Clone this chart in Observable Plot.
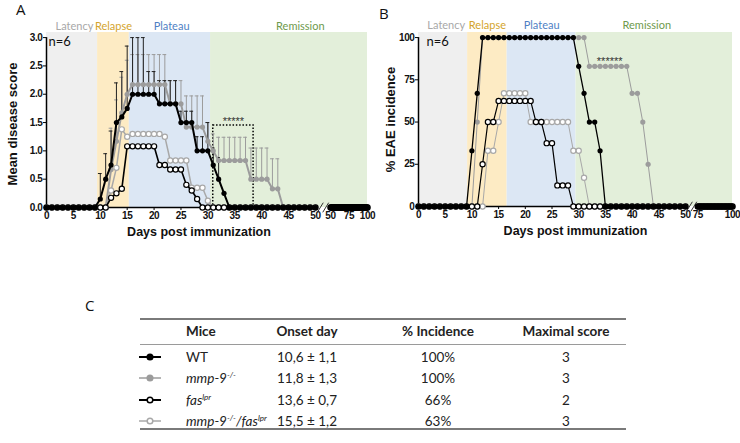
<!DOCTYPE html>
<html>
<head>
<meta charset="utf-8">
<script src="https://cdn.jsdelivr.net/npm/d3@7"></script>
<script src="https://cdn.jsdelivr.net/npm/@observablehq/plot@0.6"></script>
<style>
  html,body{margin:0;padding:0;background:#fff;}
  #root{position:relative;width:740px;height:443px;overflow:hidden;font-family:Lato,"Liberation Sans",Arial,sans-serif;color:#222;}
  .abs{position:absolute;}
  .letter{font-family:"Open Sans",Lato,sans-serif;font-size:15px;line-height:18px;color:#111;}
  .cell{position:absolute;font-size:13.5px;line-height:16px;white-space:nowrap;}
  .ctr{transform:translateX(-50%);}
  .hd{font-weight:bold;}
  sup{font-size:8px;vertical-align:5px;line-height:0;}
  .rule{position:absolute;background:#7a7a7a;}
  #A svg [aria-label*="axis"] text, #B svg [aria-label*="axis"] text{font-family:"Liberation Sans",Arial,sans-serif;font-weight:bold;font-size:10px;letter-spacing:-0.4px;fill:#111;}
</style>
</head>
<body>
<div id="root">
  <div id="A" class="abs" style="left:0;top:0"></div>
  <div id="B" class="abs" style="left:370px;top:0"></div>
</div>
<script>
// ---------------- DATA ----------------
const days = d3.range(0, 51);            // daily points, day 0..50
const tailDaysA = d3.range(50, 101);     // after axis break (panel A)
const tailDaysB = d3.range(75, 101);     // after axis break (panel B)

// Panel A: mean disease score
const A_WT   = [0,0,0,0,0,0,0,0,0,0, 0.15,0.5,0.75,1.5,1.6,1.75,2,2,2,2,2, 1.83,1.83,1.83,1.83,1.5,1.5,1.5,1,1,1, 0.75,0.5,0.25,0,0,0,0,0,0,0, 0,0,0,0,0,0,0,0,0,0];
const A_WT_up = [null,null,null,null,null,null,null,null,null,null, 0.6,0.95,1.35,2.2,2.4,2.85,3,3,3,2.4,2.4, 2.24,2.24,2.24,2.24,1.7,1.7,1.7,1.25,1.25,1.5, 1.05,0.88,null,null,null,null,null,null,null,null, null,null,null,null,null,null,null,null,null,null];
const A_MMP9 = [0,0,0,0,0,0,0,0,0,0, 0,0,0.67,1.17,1.67,2,2.17,2.17,2.17,2.17,2.17, 2.17,2.17,1.83,1.83,1.83,1.42,1.42,1.42,1.42,1.17, 1,0.83,0.83,0.83,0.83,0.83,0.83,0.5,0.5,0.5, 0.5,0.33,0.33,0,0,0,0,0,0,0];
const A_MMP9_up = [null,null,null,null,null,null,null,null,null,null, null,null,1.4,1.9,2.3,2.6,2.7,2.7,2.7,2.7,2.7, 2.7,2.7,2.24,2.24,2.24,1.97,1.97,1.97,1.97,1.5, 1.3,1.24,1.24,1.24,1.24,1.24,1.24,1.05,1.05,1.05, 1.05,0.86,0.86,null,null,null,null,null,null,null];
const A_FAS  = [0,0,0,0,0,0,0,0,0,0, 0,0,0.17,0.25,0.33,1.08,1.08,1.08,1.08,1.08,1.08, 0.75,0.75,0.67,0.67,0.67,0.4,0.3,0.15,0,0, 0,0,0,0,0,0,0,0,0,0, 0,0,0,0,0,0,0,0,0,0];
const A_DKO  = [0,0,0,0,0,0,0,0,0,0, 0,0,0.3,0.7,1.38,1.25,1.3,1.3,1.3,1.3,1.3, 1.3,1.25,0.83,0.83,0.83,0.83,0.35,0.35,0.35,0.12, 0,0,0,0,0,0,0,0,0,0, 0,0,0,0,0,0,0,0,0,0];
const A_tail = [0,0,0,0,0,0,0,0,0,0, 0,0,0,0,0,0,0,0,0,0, 0,0,0,0,0,0,0,0,0,0, 0,0,0,0,0,0,0,0,0,0, 0,0,0,0,0,0,0,0,0,0, 0];

// Panel B: % EAE incidence
const B_WT   = [0,0,0,0,0,0,0,0,0,0, 33,67,100,100,100,100,100,100,100,100,100, 100,100,100,100,100,100,100,100,100,83, 67,50,50,33,0,0,0,0,0,0, 0,0,0,0,0,0,0,0,0,0];
const B_MMP9 = [0,0,0,0,0,0,0,0,0,0, 0,50,100,100,100,100,100,100,100,100,100, 100,100,100,100,100,100,100,100,100,100, 100,83,83,83,83,83,83,83,83,67, 67,50,25,0,0,0,0,0,0,0];
const B_FAS  = [0,0,0,0,0,0,0,0,0,0, 0,0,25,50,50,62.5,62.5,62.5,62.5,62.5,62.5, 62.5,50,50,37.5,37.5,12.5,12.5,12.5,0,0, 0,0,0,0,0,0,0,0,0,0, 0,0,0,0,0,0,0,0,0,0];
const B_DKO  = [0,0,0,0,0,0,0,0,0,0, 0,0,0,33,33,50,67,67,67,67,67, 50,50,50,50,50,50,50,50,33,33, 17,0,0,0,0,0,0,0,0,0, 0,0,0,0,0,0,0,0,0,0];
const B_tail = [0,0,0,0,0,0,0,0,0,0, 0,0,0,0,0,0,0,0,0,0, 0,0,0,0,0,0];

// Disease phases
const bandNames  = ["Latency", "Relapse", "Plateau", "Remission"];
const bandStartA = [0, 9.5, 15.4, 30.5];
const bandEndA   = [9.5, 15.4, 30.5, 100];
const bandStartB = [0, 9.2, 16.6, 29.5];
const bandEndB   = [9.2, 16.6, 29.5, 100];

// Ticks
const yTicksA = [0, 0.5, 1, 1.5, 2, 2.5, 3];
const yTicksB = [0, 25, 50, 75, 100];
const xTicks1 = [0, 5, 10, 15, 20, 25, 30, 35, 40, 45, 50];
const xTicks2A = [50, 75, 100];
const xTicks2B = [75, 100];

// Significance boxes / stars
const sigA = {from: 31, to: 38.5, top: 1.45, stars: "*****"};
const sigB = {from: 33, to: 38, level: 83, stars: "******"};

// Table (panel C)
const tableHeader = ["Mice", "Onset day", "% Incidence", "Maximal score"];
const miceHTML = ["WT", "<i>mmp-9<sup>-/-</sup></i>", "<i>fas<sup>lpr</sup></i>", "<i>mmp-9<sup>-/-</sup>/fas<sup>lpr</sup></i>"];
const onsetMean = ["10,6", "11,8", "13,6", "15,5"];
const onsetSd = ["1,1", "1,3", "0,7", "1,2"];
const incidence = ["100%", "100%", "66%", "63%"];
const maxScore = ["3", "3", "2", "3"];

// ---------------- STYLE ----------------
const bandFill = ["#efefef", "#fdebc4", "#dce7f4", "#e3efda"];
const bandText = ["#a8a8a8", "#d4a42c", "#4f7fc4", "#6e9a4c"];
const series = [
  {name: "mmp9", color: "#9c9c9c", open: false, lwA: 2,   lwB: 1},
  {name: "dko",  color: "#a8a8a8", open: true,  lwA: 1.5, lwB: 1},
  {name: "fas",  color: "#000",    open: true,  lwA: 1.6, lwB: 1.2},
  {name: "wt",   color: "#000",    open: false, lwA: 2,   lwB: 1.3}
];

// broken axis: second segment compressed
const posA2 = d => 52.8 + (d - 50) * 0.1375;
const posB2 = d => 52.3 + (d - 75) * 0.26;
const tA = d => d <= 50 ? d : posA2(d);
const tB = d => d <= 50 ? d : posB2(d);

// the two "//" strokes of each axis break, centred in the gap
function breakSlashes(gapFrom, gapTo, halfW, halfH) {
  const c = (gapFrom + gapTo) / 2, s = (gapTo - gapFrom) * 0.18;
  return [c - s, c + s].map(m => ({x1: m - halfW, x2: m + halfW, y1: -halfH, y2: halfH}));
}

function buildRows(vals, ups, tailVals, pos2, tailDays) {
  const r = days.map((d, i) => ({x: d, v: vals[i], up: ups ? ups[i] : null, seg: 1}));
  const t = tailDays.map((d, i) => ({x: pos2(d), v: tailVals[i], up: null, seg: 2}));
  return r.concat(t);
}

const rowsA = {
  mmp9: buildRows(A_MMP9, A_MMP9_up, A_tail, posA2, tailDaysA),
  dko: buildRows(A_DKO, null, A_tail, posA2, tailDaysA),
  fas: buildRows(A_FAS, null, A_tail, posA2, tailDaysA),
  wt: buildRows(A_WT, A_WT_up, A_tail, posA2, tailDaysA)
};
const rowsB = {
  mmp9: buildRows(B_MMP9, null, B_tail, posB2, tailDaysB),
  dko: buildRows(B_DKO, null, B_tail, posB2, tailDaysB),
  fas: buildRows(B_FAS, null, B_tail, posB2, tailDaysB),
  wt: buildRows(B_WT, null, B_tail, posB2, tailDaysB)
};

function seriesMarks(rows, s, lw) {
  return [
    Plot.line(rows, {x: "x", y: "v", z: "seg", stroke: s.color, strokeWidth: lw}),
    Plot.dot(rows, {x: "x", y: "v", r: 2.6, fill: s.open ? "white" : s.color, stroke: s.color, strokeWidth: s.open ? 1.2 : 0})
  ];
}
function errMarks(rows, color) {
  const e = rows.filter(d => d.up != null);
  return [
    Plot.ruleX(e, {x: "x", y1: "v", y2: "up", stroke: color, strokeWidth: 1}),
    Plot.ruleY(e, {y: "up", x1: d => d.x - 0.35, x2: d => d.x + 0.35, stroke: color, strokeWidth: 1})
  ];
}

const baseStyle = {background: "transparent", overflow: "visible", fontFamily: "'Liberation Sans', Arial, sans-serif", fontSize: "10px", color: "black"};
const lblFont = {fontFamily: "Lato, 'Open Sans', sans-serif", fontWeight: "normal"};
const bandIdx = [0, 1, 2, 3];

// ---------------- PANEL A ----------------
const ymaxA = 3.09;
const xPosA = xTicks1.concat(xTicks2A.map(posA2));
const xLabA = new Map(xPosA.map((p, i) => [p, String(i < xTicks1.length ? xTicks1[i] : xTicks2A[i - xTicks1.length])]));
const shiftA = [0.45, 0, 0.3, 2.1];

const plotA = Plot.plot({
  width: 370, height: 240,
  marginLeft: 46, marginRight: 3, marginTop: 32, marginBottom: 33,
  style: baseStyle,
  color: {type: "identity"},
  x: {domain: [0, tA(100)], ticks: xPosA, tickFormat: p => xLabA.get(p), tickSize: 3, tickPadding: 1, label: null},
  y: {domain: [0, ymaxA], ticks: yTicksA, tickFormat: d => d.toFixed(1), tickSize: 3, tickPadding: 1, label: null},
  marks: [
    Plot.rect(bandIdx, {x1: i => tA(bandStartA[i]), x2: i => tA(bandEndA[i]), y1: 0, y2: ymaxA, fill: i => bandFill[i]}),
    Plot.text(bandIdx, {x: i => (tA(bandStartA[i]) + tA(bandEndA[i])) / 2 + shiftA[i], y: ymaxA, text: i => bandNames[i], fill: i => bandText[i], lineAnchor: "bottom", dy: -3, fontSize: 11, ...lblFont}),
    Plot.ruleX([0], {y1: 0, y2: 3, stroke: "black", strokeWidth: 1.5}),
    Plot.ruleY([0], {x1: 0, x2: 50, stroke: "black", strokeWidth: 1.5}),
    Plot.ruleY([0], {x1: posA2(50), x2: posA2(100), stroke: "black", strokeWidth: 1.5}),
    Plot.link(breakSlashes(50, posA2(50), 0.55, 0.085), {x1: "x1", x2: "x2", y1: "y1", y2: "y2", stroke: "#333", strokeWidth: 1}),
    Plot.rect([sigA], {x1: d => d.from, x2: d => d.to, y1: 0, y2: d => d.top, fill: "none", stroke: "black", strokeWidth: 1.5, strokeDasharray: "1.5 1.8"}),
    Plot.text([sigA], {x: d => (d.from + d.to) / 2, y: d => d.top, text: d => d.stars, lineAnchor: "bottom", dy: 0, fontSize: 11, fill: "#333"}),
    ...errMarks(rowsA.mmp9, "#9c9c9c"),
    ...errMarks(rowsA.wt, "#222"),
    ...series.flatMap(s => seriesMarks(rowsA[s.name], s, s.lwA)),
    Plot.text(["n=6"], {frameAnchor: "top-left", text: d => d, dx: 2, dy: 4, lineAnchor: "top", textAnchor: "start", fontSize: 13, fill: "#111", ...lblFont}),
    Plot.text(["Days post immunization"], {frameAnchor: "bottom", text: d => d, dx: -8, dy: 24, lineAnchor: "middle", textAnchor: "middle", fontSize: 12.5, fontWeight: "bold", fill: "#111"}),
    Plot.text(["Mean disease score"], {frameAnchor: "left", text: d => d, rotate: -90, dx: -34, dy: 4, textAnchor: "middle", lineAnchor: "middle", fontSize: 13, fontWeight: "bold", fill: "#111"})
  ]
});
document.getElementById("A").appendChild(plotA);

// ---------------- PANEL B ----------------
const ymaxB = 103;
const xPosB = xTicks1.concat(xTicks2B.map(posB2));
const xLabB = new Map(xPosB.map((p, i) => [p, String(i < xTicks1.length ? xTicks1[i] : xTicks2B[i - xTicks1.length])]));
const shiftB = [0.6, 0, 0, -1.4];

const plotB = Plot.plot({
  width: 370, height: 240,
  marginLeft: 48, marginRight: 8, marginTop: 32, marginBottom: 34,
  style: baseStyle,
  color: {type: "identity"},
  x: {domain: [0, tB(100)], ticks: xPosB, tickFormat: p => xLabB.get(p), tickSize: 3, tickPadding: 1, label: null},
  y: {domain: [0, ymaxB], ticks: yTicksB, tickFormat: d => String(d), tickSize: 3, tickPadding: 1, label: null},
  marks: [
    Plot.rect(bandIdx, {x1: i => tB(bandStartB[i]), x2: i => tB(bandEndB[i]), y1: 0, y2: ymaxB, fill: i => bandFill[i]}),
    Plot.text(bandIdx, {x: i => (tB(bandStartB[i]) + tB(bandEndB[i])) / 2 + shiftB[i], y: ymaxB, text: i => bandNames[i], fill: i => bandText[i], lineAnchor: "bottom", dy: -4, fontSize: 11, ...lblFont}),
    Plot.ruleX([0], {y1: 0, y2: 100, stroke: "black", strokeWidth: 1.5}),
    Plot.ruleY([0], {x1: 0, x2: 50, stroke: "black", strokeWidth: 1.5}),
    Plot.ruleY([0], {x1: posB2(75), x2: posB2(100), stroke: "black", strokeWidth: 1.5}),
    Plot.link(breakSlashes(50, posB2(75), 0.55, 2.8), {x1: "x1", x2: "x2", y1: "y1", y2: "y2", stroke: "#333", strokeWidth: 1}),
    Plot.text([sigB], {x: d => (d.from + d.to) / 2 + 0.3, y: d => d.level, text: d => d.stars, lineAnchor: "bottom", dy: -1, fontSize: 11, fill: "#333"}),
    ...series.flatMap(s => seriesMarks(rowsB[s.name], s, s.lwB)),
    Plot.text(["n=6"], {frameAnchor: "top-left", text: d => d, dx: 8, dy: 4, lineAnchor: "top", textAnchor: "start", fontSize: 13, fill: "#111", ...lblFont}),
    Plot.text(["Days post immunization"], {frameAnchor: "bottom", text: d => d, dx: 0, dy: 24, lineAnchor: "middle", textAnchor: "middle", fontSize: 12.5, fontWeight: "bold", fill: "#111"}),
    Plot.text(["% EAE incidence"], {frameAnchor: "left", text: d => d, rotate: -90, dx: -28, dy: 0, textAnchor: "middle", lineAnchor: "middle", fontSize: 13, fontWeight: "bold", fill: "#111"})
  ]
});
document.getElementById("B").appendChild(plotB);

// ---------------- PANEL LETTERS + TABLE ----------------
const root = document.getElementById("root");
function add(html, cls, left, top, extra) {
  const el = document.createElement("div");
  el.className = cls;
  el.style.left = left + "px";
  el.style.top = top + "px";
  if (extra) Object.assign(el.style, extra);
  el.innerHTML = html;
  root.appendChild(el);
  return el;
}
add("A", "abs letter", 16, 0);
add("B", "abs letter", 379, 4);
add("C", "abs letter", 85, 296);

const tbl = {left: 140, right: 626, top: 318, mid: 344, bottom: 428};
const colSym = 138, colMice = 186, colOnset = 307, colInc = 438, colMax = 566;
const headerY = 331, rowY = [357, 378, 400, 421];

add("", "rule", tbl.left, tbl.top, {width: (tbl.right - tbl.left) + "px", height: "2px"});
add("", "rule", tbl.left, tbl.mid, {width: (tbl.right - tbl.left) + "px", height: "1px", background: "#9a9a9a"});
add("", "rule", tbl.left, tbl.bottom, {width: (tbl.right - tbl.left) + "px", height: "2px"});

add(tableHeader[0], "cell hd", colMice, headerY - 8);
add(tableHeader[1], "cell hd ctr", colOnset, headerY - 8);
add(tableHeader[2], "cell hd ctr", colInc, headerY - 8);
add(tableHeader[3], "cell hd ctr", colMax, headerY - 8);

const legendGlyph = [
  {c: "#000", open: false, lw: 2},
  {c: "#9c9c9c", open: false, lw: 1.5},
  {c: "#000", open: true, lw: 2},
  {c: "#a8a8a8", open: true, lw: 1.5}
];
rowY.forEach((y, i) => {
  const g = legendGlyph[i];
  add(`<svg width="24" height="10" style="display:block"><line x1="1" x2="23" y1="5" y2="5" stroke="${g.c}" stroke-width="${g.lw}"/><circle cx="12" cy="5" r="2.8" fill="${g.open ? "#fff" : g.c}" stroke="${g.c}" stroke-width="1.5"/></svg>`, "abs", colSym, y - 5);
  add(miceHTML[i], "cell", colMice, y - 8);
  add(onsetMean[i] + " &plusmn; " + onsetSd[i], "cell ctr", colOnset, y - 8);
  add(incidence[i], "cell ctr", colInc, y - 8);
  add(maxScore[i], "cell ctr", colMax, y - 8);
});
</script>
</body>
</html>
